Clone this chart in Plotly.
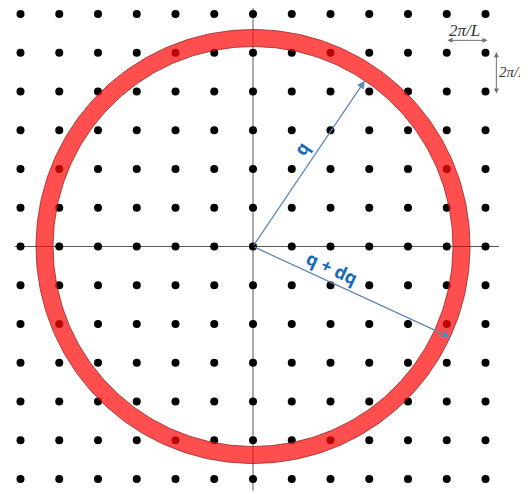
import numpy as np
import plotly.graph_objects as go

# ---- data ----
lattice_n = list(range(-6, 7))          # lattice indices along kx and ky (units of 2π/L)
q_inner = 5.16                          # |q|   (units of 2π/L)
q_outer = 5.60                          # |q + dq|
q_angle_deg = 56.0                      # direction of q arrow
qdq_angle_deg = -24.7                   # direction of q+dq arrow
label_q = "q"
label_qdq = "q + dq"
label_step = "2π/L"

# ---- geometry helpers ----
kx, ky = np.meshgrid(lattice_n, lattice_n)
kx = kx.ravel()
ky = ky.ravel()

theta = np.linspace(0, 2 * np.pi, 361)
ring_x = np.concatenate([q_outer * np.cos(theta), q_inner * np.cos(theta[::-1])])
ring_y = np.concatenate([q_outer * np.sin(theta), q_inner * np.sin(theta[::-1])])

fig = go.Figure()

# lattice points
fig.add_trace(go.Scatter(x=kx, y=ky, mode="markers",
                         marker=dict(color="black", size=8),
                         hoverinfo="skip", showlegend=False))

# shell between q and q+dq
fig.add_trace(go.Scatter(x=ring_x, y=ring_y, mode="lines", fill="toself",
                         fillcolor="rgba(255,10,10,0.72)",
                         line=dict(color="rgba(150,40,40,0.8)", width=1),
                         hoverinfo="skip", showlegend=False))

# axis lines
nmax = max(lattice_n)
fig.add_shape(type="line", x0=-nmax - 0.15, x1=nmax + 0.35, y0=0, y1=0,
              line=dict(color="rgba(70,70,70,0.9)", width=1), layer="below")
fig.add_shape(type="line", x0=0, x1=0, y0=-nmax - 0.3, y1=nmax + 0.5,
              line=dict(color="rgba(70,70,70,0.9)", width=1), layer="below")

arrow_col = "rgb(95,135,185)"
text_col = "rgb(25,105,185)"

a1 = np.deg2rad(q_angle_deg)
a2 = np.deg2rad(qdq_angle_deg)
fig.add_annotation(x=q_inner * np.cos(a1), y=q_inner * np.sin(a1), ax=0, ay=0,
                   xref="x", yref="y", axref="x", ayref="y", text="",
                   showarrow=True, arrowhead=2, arrowsize=1.2, arrowwidth=1.3,
                   arrowcolor=arrow_col)
fig.add_annotation(x=q_outer * np.cos(a2), y=q_outer * np.sin(a2), ax=0, ay=0,
                   xref="x", yref="y", axref="x", ayref="y", text="",
                   showarrow=True, arrowhead=2, arrowsize=1.2, arrowwidth=1.3,
                   arrowcolor=arrow_col)

# labels along arrows
r1 = 0.543 * q_inner
fig.add_annotation(x=r1 * np.cos(a1) - 0.37 * np.sin(a1),
                   y=r1 * np.sin(a1) + 0.37 * np.cos(a1),
                   text=f"<b>{label_q}</b>", showarrow=False, textangle=-q_angle_deg,
                   font=dict(family="Open Sans", size=18, color=text_col))
r2 = 0.373 * q_outer
fig.add_annotation(x=r2 * np.cos(a2) - 0.34 * np.sin(a2),
                   y=r2 * np.sin(a2) + 0.34 * np.cos(a2),
                   text=f"<b>{label_qdq}</b>", showarrow=False, textangle=-qdq_angle_deg,
                   font=dict(family="Open Sans", size=18, color=text_col))

# 2π/L scale markers
step_col = "rgb(110,110,110)"
fig.add_annotation(x=nmax + 0.05, y=nmax - 0.68, ax=nmax - 1 - 0.02, ay=nmax - 0.68,
                   xref="x", yref="y", axref="x", ayref="y", text="",
                   showarrow=True, arrowhead=2, startarrowhead=2, arrowside="end+start",
                   arrowsize=1, arrowwidth=1, arrowcolor=step_col)
fig.add_annotation(x=nmax - 0.55, y=nmax - 0.42, text=f"<i>{label_step}</i>",
                   showarrow=False,
                   font=dict(family="Liberation Serif", size=17, color="#333"))
fig.add_annotation(x=nmax + 0.28, y=nmax - 2.05, ax=nmax + 0.28, ay=nmax - 0.95,
                   xref="x", yref="y", axref="x", ayref="y", text="",
                   showarrow=True, arrowhead=2, startarrowhead=2, arrowside="end+start",
                   arrowsize=1, arrowwidth=1, arrowcolor=step_col)
fig.add_annotation(x=nmax + 0.30, y=nmax - 1.5, text=f"<i>{label_step}</i>",
                   showarrow=False, xanchor="left",
                   font=dict(family="Liberation Serif", size=15, color="#333"))

# page body adds ~8px offset; compensate so the lattice centre sits at (253, 246)
unit = 38.75
cx, cy = 245, 238.5
W, H = 528, 494
fig.update_layout(
    width=W, height=H,
    margin=dict(l=0, r=0, t=0, b=0),
    paper_bgcolor="white", plot_bgcolor="white",
    xaxis=dict(range=[-cx / unit, (W - cx) / unit], visible=False, fixedrange=True),
    yaxis=dict(range=[-(H - cy) / unit, cy / unit], visible=False, fixedrange=True),
    showlegend=False,
)

fig.write_html("out.html")
